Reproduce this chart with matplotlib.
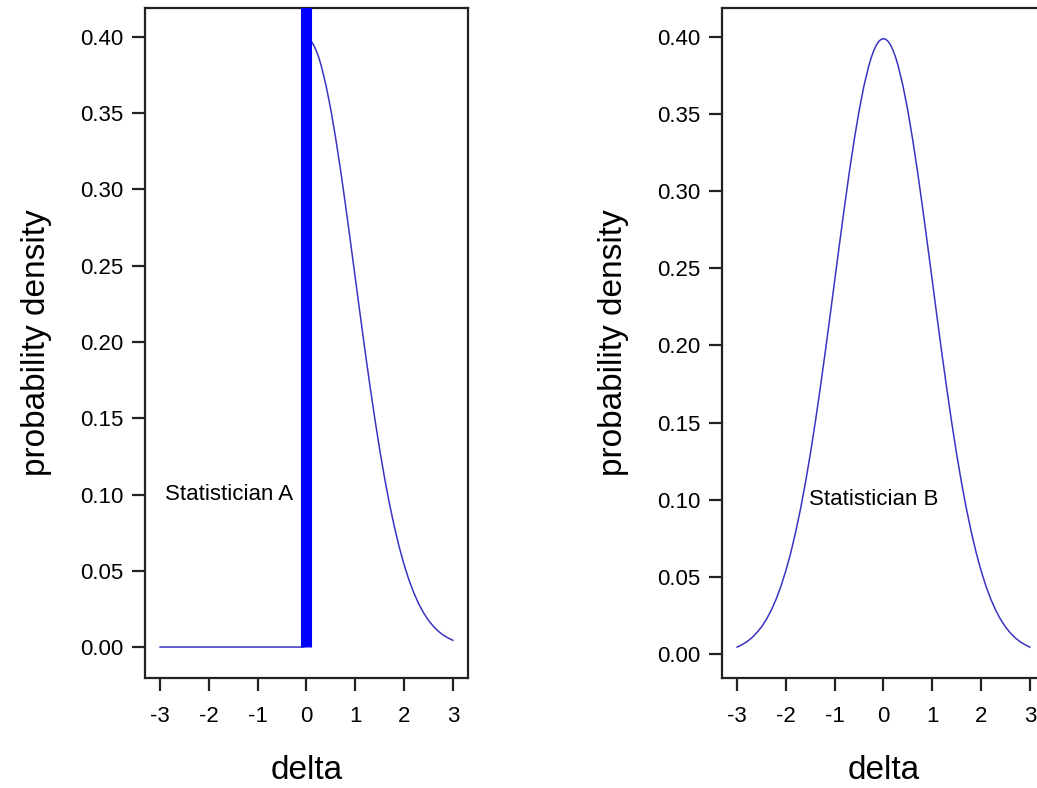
import numpy as np
import matplotlib.pyplot as plt

plt.rcParams['font.family'] = ['Liberation Sans', 'DejaVu Sans']

# Data
delta = [-3.0, -2.9, -2.8, -2.7, -2.6, -2.5, -2.4, -2.3, -2.2, -2.1,
         -2.0, -1.9, -1.8, -1.7, -1.6, -1.5, -1.4, -1.3, -1.2, -1.1,
         -1.0, -0.9, -0.8, -0.7, -0.6, -0.5, -0.4, -0.3, -0.25, -0.2, -0.15, -0.1, -0.05,
         0.0, 0.05, 0.1, 0.15, 0.2, 0.25, 0.3, 0.4, 0.5, 0.6, 0.7, 0.8, 0.9,
         1.0, 1.1, 1.2, 1.3, 1.4, 1.5, 1.6, 1.7, 1.8, 1.9,
         2.0, 2.1, 2.2, 2.3, 2.4, 2.5, 2.6, 2.7, 2.8, 2.9, 3.0]
density_b = [0.0044, 0.0060, 0.0079, 0.0104, 0.0136, 0.0175, 0.0224, 0.0283, 0.0355, 0.0440,
             0.0540, 0.0656, 0.0790, 0.0940, 0.1109, 0.1295, 0.1497, 0.1714, 0.1942, 0.2179,
             0.2420, 0.2661, 0.2897, 0.3123, 0.3332, 0.3521, 0.3683, 0.3814, 0.3867, 0.3910, 0.3945, 0.3970, 0.3984,
             0.3989, 0.3984, 0.3970, 0.3945, 0.3910, 0.3867, 0.3814, 0.3683, 0.3521, 0.3332, 0.3123, 0.2897, 0.2661,
             0.2420, 0.2179, 0.1942, 0.1714, 0.1497, 0.1295, 0.1109, 0.0940, 0.0790, 0.0656,
             0.0540, 0.0440, 0.0355, 0.0283, 0.0224, 0.0175, 0.0136, 0.0104, 0.0079, 0.0060, 0.0044]
# Statistician A: zero below 0, point mass at 0, same density above 0
n_neg = 33
density_a = [0.0] * n_neg + density_b[n_neg:]
spike_at = 0.0

xticks = [-3, -2, -1, 0, 1, 2, 3]
yticks = [0.00, 0.05, 0.10, 0.15, 0.20, 0.25, 0.30, 0.35, 0.40]

line_col = '#3a34c0'

fig = plt.figure(figsize=(10.37, 7.88), dpi=100)
ax1 = fig.add_axes([0.1398, 0.1396, 0.3115, 0.8503])
ax2 = fig.add_axes([0.6962, 0.1396, 0.3115, 0.8503])


def style(ax, ylim):
    ax.set_xlim(-3.31, 3.31)
    ax.set_ylim(*ylim)
    ax.set_xticks(xticks)
    ax.set_xticklabels([str(t) for t in xticks])
    ax.set_yticks(yticks)
    ax.set_yticklabels(['%.2f' % t for t in yticks])
    ax.tick_params(direction='out', length=9.5, width=1.6, labelsize=16, pad=6, color='#222222')
    ax.tick_params(axis='x', pad=11)
    for s in ax.spines.values():
        s.set_linewidth(1.6)
        s.set_color('#222222')
    ax.set_xlabel('delta', fontsize=24, labelpad=20)
    ax.set_ylabel('probability density', fontsize=24, labelpad=20)


# Left panel
ax1.plot(delta, density_a, color=line_col, lw=1.1)
ax1.vlines(spike_at, 0, 1, color='#0000ff', lw=8, capstyle='butt', zorder=3)
ax1.text(-2.9, 0.10, 'Statistician A', fontsize=16, va='center', ha='left')
style(ax1, (-0.0203, 0.419))

# Right panel
ax2.plot(delta, density_b, color=line_col, lw=1.1)
ax2.text(-1.52, 0.10, 'Statistician B', fontsize=16, va='center', ha='left')
style(ax2, (-0.0156, 0.4188))

fig.savefig('out.png', dpi=100)
